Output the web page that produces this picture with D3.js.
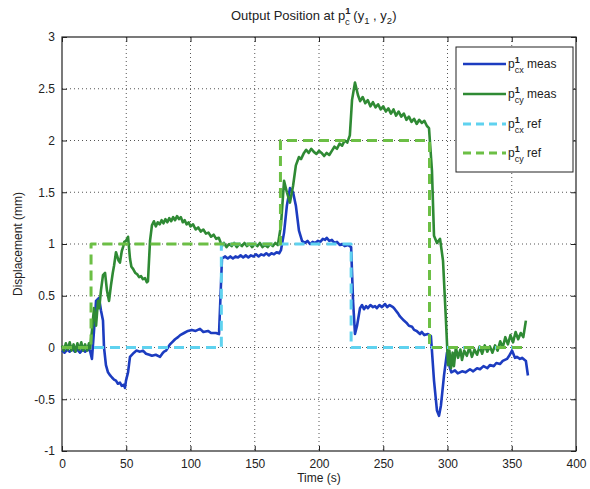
<!DOCTYPE html>
<html><head><meta charset="utf-8">
<script src="https://cdn.jsdelivr.net/npm/d3@7"></script>
<style>
body{margin:0;background:#fff;}
text{font-family:"Liberation Sans",Arial,sans-serif;fill:#222;}
</style></head>
<body><svg id="c" width="590" height="489"></svg>
<script>
// ---- data ----
const xTicks = [0,50,100,150,200,250,300,350,400];
const yTicks = [-1,-0.5,0,0.5,1,1.5,2,2.5,3];
const yTickLabels = ["-1","-0.5","0","0.5","1","1.5","2","2.5","3"];

// [time (s), displacement (mm)]
const cxMeas = [[0,-0.03],[2,-0.05],[4,-0.02],[6,-0.04],[8,-0.01],[10,-0.04],[12,-0.02],[14,-0.05],[16,-0.02],[18,-0.04],[20,-0.02],[21.8,-0.03],
 [23.3,-0.11],[24.9,0.16],[26.5,0.45],[28.8,0.48],[30.3,0.36],[31.9,0.26],[32.7,0],[34.2,-0.17],[35.8,-0.24],[37.5,-0.27],[38.9,-0.29],[40.5,-0.31],[42,-0.32],[43.5,-0.35],[45.1,-0.34],[46.5,-0.37],[48.2,-0.36],[49,-0.39],[49.8,-0.32],[51.4,-0.24],[52.9,-0.09],
 [56,-0.05],[58,-0.03],[60.7,-0.04],[63,-0.03],[65.4,-0.06],[68,-0.07],[70,-0.08],[73,-0.07],[76.3,-0.09],[78,-0.06],[79.4,-0.04],[81,-0.03],[82.5,0],[84,0.03],[85.6,0.05],[88,0.08],[90.3,0.1],[92,0.12],[95,0.14],[98,0.16],[101,0.17],[104,0.16],[107.4,0.18],[110,0.15],[113.6,0.16],[116,0.14],[119.8,0.14],[122.2,0.13],
 [124.5,0.86],[127,0.88],[129,0.86],[131,0.88],[133,0.86],[135,0.88],[137,0.87],[139,0.89],[141,0.87],[143,0.89],[145,0.87],[147,0.89],[149,0.88],[151,0.9],[153,0.88],[155,0.9],[157,0.89],[159,0.91],[161,0.89],[163,0.91],[165,0.9],[167,0.92],[169,0.91],
 [170.4,0.94],[172.8,1.11],[175,1.37],[177.4,1.54],[179.8,1.5],[182,1.37],[184.4,1.13],[186.8,1.03],[189,1.01],[191,1.03],[193,1.0],[195,1.02],[197,1.01],[199.2,1.03],[201,1.02],[203,1.05],[204.7,1.04],[206,1.06],[208,1.03],[210,1.04],[212,1.01],[214,1.02],[216.3,0.99],[218,1.0],[220,0.98],[222.6,0.99],[225,0.97],
 [226.5,0.45],[228,0.13],[229.6,0.21],[231.9,0.38],[233.5,0.41],[235,0.37],[236.6,0.40],[238,0.38],[240,0.41],[242,0.39],[243.6,0.40],[245,0.38],[247,0.41],[249,0.39],[251.4,0.42],[253,0.39],[255,0.41],[257.6,0.39],[259,0.37],[261.5,0.33],[263,0.30],[266.1,0.26],[268,0.24],[270,0.21],[272.4,0.20],[274,0.17],[276,0.16],[278.6,0.13],[280,0.15],[282,0.12],[284.8,0.13],[287.1,0.11],
 [289.5,-0.32],[291.8,-0.61],[293.4,-0.66],[294.9,-0.56],[297.3,-0.27],[299.6,-0.05],[301.9,-0.2],[303,-0.24],[305.8,-0.22],[308,-0.25],[311.3,-0.23],[314,-0.24],[317.5,-0.21],[320,-0.23],[323,-0.2],[325.3,-0.21],[328,-0.18],[331,-0.2],[333,-0.17],[336,-0.18],[338,-0.15],[340.8,-0.16],[343,-0.13],[346.3,-0.11],[348,-0.08],[350.2,-0.03],[352.5,-0.1],[354,-0.09],[356.4,-0.11],[358,-0.1],[361,-0.13],[362.6,-0.27]];

const cyMeas = [[0,0.02],[1.5,-0.03],[3,0.04],[4.5,-0.02],[6,0.05],[7.5,-0.03],[9,0.03],[10.5,-0.04],[12,0.04],[13.5,-0.02],[15,0.05],[16.5,-0.03],[18,0.03],[19.5,-0.03],[21,0.04],[21.8,-0.01],
 [23.3,0.16],[24.9,0.38],[26.5,0.21],[28,0.45],[29,0.38],[30.3,0.55],[31.9,0.70],[33.5,0.72],[35,0.55],[36.6,0.45],[38.1,0.60],[39.5,0.72],[40.5,0.79],[42,0.92],[42.8,0.89],[44,0.84],[45.1,0.82],[46.5,0.93],[47.5,0.97],[48.5,1.02],[49.8,1.03],[51.4,1.07],
 [52.9,0.86],[54,0.78],[55.3,0.76],[57,0.72],[58.4,0.71],[60,0.68],[61.5,0.69],[63,0.66],[64.6,0.67],[66,0.63],[66.9,0.64],
 [68.5,1.03],[70,1.18],[71.5,1.22],[73,1.17],[74.5,1.21],[76,1.19],[77.5,1.23],[79,1.2],[80.5,1.24],[82,1.21],[83.5,1.25],[85,1.22],[86.5,1.26],[88,1.23],[89.5,1.27],[91,1.24],[92.5,1.26],[94,1.21],[95.5,1.23],[97,1.19],[98.5,1.21],[100,1.17],[102,1.19],[104,1.14],[106,1.16],[108,1.12],[110,1.14],[112,1.1],[114,1.11],[116,1.07],[118,1.09],[120,1.05],[122,1.06],
 [124.5,0.98],[126,1.01],[128,0.97],[130,1.0],[132,0.98],[134,1.01],[136,0.97],[138,1.0],[140,0.98],[142,1.01],[144,0.98],[146,1.0],[148,0.97],[150,1.0],[152,0.98],[154,1.01],[156,0.97],[158,0.99],[160,0.97],[162,1.0],[164,0.98],[166,1.01],[168,0.99],
 [170.4,1.18],[172.8,1.61],[175,1.5],[177.4,1.40],[179.8,1.56],[182,1.76],[184.4,1.84],[186,1.82],[188.3,1.88],[190,1.91],[192,1.88],[194,1.92],[196,1.89],[198,1.87],[200,1.9],[202,1.88],[204,1.85],[206,1.88],[208,1.86],[210,1.9],[212,1.94],[214,1.92],[216,1.97],[218,1.95],[220,2.0],[222,1.98],[224,2.05],
 [225.7,2.39],[228,2.56],[230.3,2.44],[232,2.38],[234,2.42],[236,2.36],[238,2.39],[240,2.33],[242,2.37],[244,2.32],[246,2.35],[248,2.3],[250,2.33],[252,2.28],[254,2.31],[256,2.26],[258,2.3],[260,2.24],[262,2.28],[264,2.23],[266,2.26],[268,2.2],[270,2.23],[272,2.18],[274,2.21],[276,2.16],[278,2.2],[280,2.17],[282,2.19],[284,2.14],[285.6,2.12],
 [287.9,1.71],[289.5,1.08],[291.8,1.01],[294.2,1.05],[296.5,0.84],[298.8,0.26],[300.4,-0.17],[301.5,-0.03],[302.7,-0.2],[304,-0.05],[305,-0.18],[306.5,0.0],[308.2,-0.1],[310,-0.02],[311.3,-0.12],[313,-0.03],[315,-0.08],[317,0.0],[319,-0.09],[321,-0.02],[323,-0.07],[325,0.01],[327,-0.06],[329,0.02],[331,-0.04],[333,0.01],[335,-0.05],[337,0.02],[339,-0.03],[341,0.06],[343,0.0],[345,0.1],[347,0.03],[349,0.12],[351,0.05],[353,0.15],[355,0.08],[357,0.14],[359,0.1],[361,0.26]];

const cxRefT = [0,124,124,225,225,361];
const cxRefV = [0,0,1,1,0,0];
const cyRefT = [0,22.6,22.6,170,170,286,286,361];
const cyRefV = [0,0,1,1,2,2,0,0];

const seriesNames = ["meas","meas","ref","ref"];
const seriesSubs = ["cx","cy","cx","cy"];
const colors = ["#1c3cc0","#2f8a34","#5fd2ef","#6cbf45"];

// ---- drawing ----
const svg = d3.select("#c");
const L=62,R=576,T=37,B=451;
const x = d3.scaleLinear().domain([0,400]).range([L,R]);
const y = d3.scaleLinear().domain([-1,3]).range([B,T]);

// grid
const g = svg.append("g");
xTicks.slice(1,-1).forEach(t=>g.append("line").attr("x1",x(t)).attr("x2",x(t)).attr("y1",T).attr("y2",B)
  .attr("stroke","#555").attr("stroke-width",1).attr("stroke-dasharray","1,3"));
yTicks.slice(1,-1).forEach(t=>g.append("line").attr("y1",y(t)).attr("y2",y(t)).attr("x1",L).attr("x2",R)
  .attr("stroke","#555").attr("stroke-width",1).attr("stroke-dasharray","1,3"));

// axes (ticks inward)
const ax = d3.axisBottom(x).tickValues(xTicks).tickSize(-5).tickPadding(8).tickFormat(d3.format("d"));
const ay = d3.axisLeft(y).tickValues(yTicks).tickSize(-5).tickPadding(7).tickFormat((d,i)=>yTickLabels[i]);
const gx = svg.append("g").attr("transform",`translate(0,${B})`).call(ax);
const gy = svg.append("g").attr("transform",`translate(${L},0)`).call(ay);
svg.append("g").attr("transform",`translate(0,${T})`).call(d3.axisTop(x).tickValues(xTicks).tickSize(-5).tickFormat(""));
svg.append("g").attr("transform",`translate(${R},0)`).call(d3.axisRight(y).tickValues(yTicks).tickSize(-5).tickFormat(""));
svg.selectAll(".domain").remove();
svg.selectAll(".tick line").attr("stroke","#222");
[gx,gy].forEach(a=>a.selectAll("text").style("font-size","12px").style("font-family","Liberation Sans, Arial").attr("fill","#222"));
svg.append("rect").attr("x",L).attr("y",T).attr("width",R-L).attr("height",B-T).attr("fill","none").attr("stroke","#222").attr("stroke-width",1.2);

// lines
const line = d3.line().x(d=>x(d[0])).y(d=>y(d[1]));
const plot = svg.append("g");
const series = [
  {data:cxMeas,dash:null,w:2.6},
  {data:cyMeas,dash:null,w:2.6},
  {data:cxRefT.map((t,k)=>[t,cxRefV[k]]),dash:"10,6",w:3},
  {data:cyRefT.map((t,k)=>[t,cyRefV[k]]),dash:"10,6",w:3}
];
series.forEach((s,i)=>{
  plot.append("path").datum(s.data).attr("d",line)
    .attr("fill","none").attr("stroke",colors[i]).attr("stroke-width",s.w)
    .attr("stroke-linejoin","round").attr("stroke-dasharray",s.dash);
});

// superscript/subscript helper
function pLabel(parent,x0,y0,sub,rest,size){
  const t = parent.append("text").attr("x",x0).attr("y",y0).style("font-size",size+"px");
  t.append("tspan").text("p");
  const supSize = size*0.75;
  t.append("tspan").attr("dy",-size*0.45).style("font-size",supSize+"px").style("font-weight","bold").text("1");
  const wsup = supSize*0.55;
  t.append("tspan").attr("dx",-wsup).attr("dy",size*0.45+size*0.42).style("font-size",supSize+"px").text(sub);
  t.append("tspan").attr("dy",-size*0.42).text(rest);
  return t;
}

// title
const tt = svg.append("text").attr("x",231).attr("y",20).style("font-size","13px");
tt.append("tspan").text("Output Position at p");
tt.append("tspan").attr("dy",-6).style("font-size","9.5px").style("font-weight","bold").text("1");
tt.append("tspan").attr("dx",-5.5).attr("dy",10.5).style("font-size","9.5px").text("c");
tt.append("tspan").attr("dy",-4.5).text(" (y");
tt.append("tspan").attr("dy",4).style("font-size","9.5px").text("1");
tt.append("tspan").attr("dy",-4).text(" , y");
tt.append("tspan").attr("dy",4).style("font-size","9.5px").text("2");
tt.append("tspan").attr("dy",-4).text(")");

// axis labels
svg.append("text").attr("x",(L+R)/2).attr("y",482).attr("text-anchor","middle").style("font-size","12px").text("Time (s)");
svg.append("text").attr("transform",`translate(22,${(T+B)/2}) rotate(-90)`).attr("text-anchor","middle").style("font-size","12px").text("Displacement (mm)");

// legend
const lg = svg.append("g");
lg.append("rect").attr("x",456).attr("y",47).attr("width",117).attr("height",125).attr("fill","#fff").attr("stroke","#222").attr("stroke-width",1);
const rowsY = [64,94,124,153];
series.forEach((s,i)=>{
  lg.append("line").attr("x1",463).attr("x2",506).attr("y1",rowsY[i]).attr("y2",rowsY[i])
    .attr("stroke",colors[i]).attr("stroke-width",s.w).attr("stroke-dasharray",s.dash?"8,5":null);
  pLabel(lg,508,rowsY[i]+4,seriesSubs[i]," "+seriesNames[i],12);
});
</script></body></html>
